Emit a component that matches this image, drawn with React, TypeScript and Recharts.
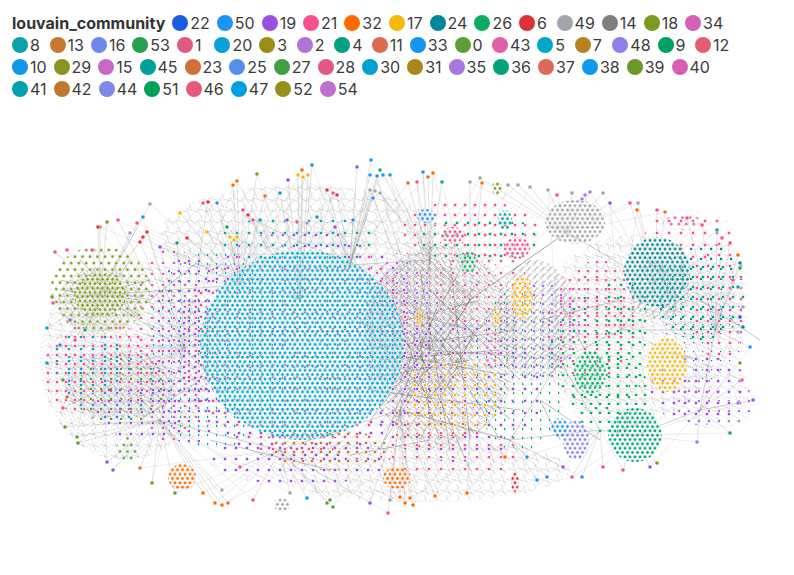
import React from "react";
import { ScatterChart, Scatter, XAxis, YAxis, ReferenceLine, Legend } from "recharts";

// legend order, as the chart lists it
const legendOrder = [
  22, 50, 19, 21, 32, 17, 24, 26, 6, 49, 14, 18, 34, 8, 13, 16, 53, 1, 20, 3, 2, 4, 11, 33, 0, 43, 5, 7, 48, 9, 12,
  10, 29, 15, 45, 23, 25, 27, 28, 30, 31, 35, 36, 37, 38, 39, 40, 41, 42, 44, 51, 46, 47, 52, 54,
];

const palette: Record<number, string> = {
  22: "#1a5be0", 50: "#1e93f7", 19: "#9b51e0", 21: "#f5508f", 32: "#ff6a00", 17: "#f5b80c", 24: "#008896",
  26: "#0aac62", 6: "#e0303a", 49: "#a2a5aa", 14: "#7f7f7f", 18: "#7a9a22", 34: "#d660b8", 8: "#0aa3aa",
  13: "#c87830", 16: "#6e88f0", 53: "#2a9e50", 1: "#e05a80", 20: "#0aa0d8", 3: "#9a8c18", 2: "#b074d8",
  4: "#00a080", 11: "#dc6c50", 33: "#1595f0", 0: "#5e9e38", 43: "#e060a8", 5: "#00a8c8", 7: "#b88020",
  48: "#9080e8", 9: "#00a060", 12: "#e06070", 10: "#1098e8", 29: "#8a9422", 15: "#c868c8", 45: "#00a098",
  23: "#d07038", 25: "#5590f0", 27: "#42a044", 28: "#e05888", 30: "#00a0d0", 31: "#a88818", 35: "#a878e0",
  36: "#00a478", 37: "#e06858", 38: "#1098f0", 39: "#6e9828", 40: "#d860b0", 41: "#00a0b0", 42: "#c07830",
  44: "#8088e8", 51: "#00a058", 46: "#e85878", 47: "#00a0e0", 52: "#949020", 54: "#c070d0",
};

// dense groups of nodes: [community, x, y, spreadX, spreadY, packing]
// "haze" and "veil" are the dark and light tangles of edges between them
const groups: [number, number, number, number, number, string][] = [
  [14, 300, 235, 140, 50, "veil"],
  [14, 630, 330, 90, 95, "veil"],
  [14, 125, 360, 85, 100, "veil"],
  [14, 420, 470, 150, 32, "veil"],
  [14, 440, 345, 78, 100, "haze"],
  [14, 420, 330, 55, 70, "haze"],
  [14, 535, 320, 40, 60, "haze"],
  [14, 100, 300, 42, 32, "haze"],
  [14, 120, 385, 55, 35, "haze"],
  [14, 660, 290, 30, 30, "haze"],
  [19, 302, 345, 128, 116, "mix"],
  [21, 302, 345, 122, 112, "mix"],
  [5, 215, 350, 70, 100, "mix"],
  [19, 190, 350, 40, 95, "mix"],
  [43, 170, 345, 40, 100, "mix"],
  [50, 110, 380, 50, 42, "mix"],
  [21, 100, 370, 58, 48, "mix"],
  [0, 120, 392, 45, 35, "mix"],
  [19, 140, 410, 45, 30, "mix"],
  [8, 90, 360, 40, 30, "mix"],
  [18, 100, 290, 50, 44, "loose"],
  [18, 100, 295, 26, 22, "core"],
  [21, 440, 330, 78, 96, "mix"],
  [19, 455, 390, 88, 72, "mix"],
  [26, 520, 370, 48, 82, "mix"],
  [17, 455, 395, 48, 40, "mix"],
  [13, 430, 420, 40, 30, "mix"],
  [43, 480, 290, 50, 40, "mix"],
  [35, 540, 330, 40, 50, "mix"],
  [2, 400, 300, 40, 40, "mix"],
  [26, 600, 350, 50, 60, "mix"],
  [21, 590, 330, 45, 55, "mix"],
  [26, 610, 395, 40, 40, "mix"],
  [35, 715, 400, 40, 30, "mix"],
  [19, 700, 390, 50, 35, "mix"],
  [21, 690, 235, 45, 25, "mix"],
  [22, 705, 330, 40, 50, "mix"],
  [24, 700, 290, 45, 50, "mix"],
  [21, 720, 300, 30, 60, "mix"],
  [26, 620, 320, 32, 42, "mix"],
  [43, 600, 300, 40, 40, "mix"],
  [36, 700, 300, 45, 40, "mix"],
  [19, 300, 460, 90, 25, "mix"],
  [21, 450, 455, 70, 25, "mix"],
  [13, 330, 450, 60, 20, "mix"],
  [21, 470, 230, 70, 30, "mix"],
  [26, 480, 240, 60, 25, "mix"],
  [8, 300, 240, 80, 25, "mix"],
  [5, 302, 345, 102, 95, "core"],
  [24, 657, 272, 33, 35, "core"],
  [26, 590, 372, 16, 22, "core"],
  [17, 667, 365, 20, 27, "core"],
  [17, 522, 297, 11, 22, "core"],
  [17, 419, 318, 5, 8, "core"],
  [17, 496, 318, 4, 10, "core"],
  [36, 635, 435, 27, 27, "core"],
  [44, 576, 440, 13, 20, "core"],
  [50, 560, 428, 9, 10, "core"],
  [49, 575, 222, 30, 22, "core"],
  [50, 426, 216, 9, 7, "core"],
  [21, 517, 248, 13, 11, "core"],
  [45, 505, 220, 7, 10, "core"],
  [26, 468, 262, 8, 12, "core"],
  [18, 497, 188, 5, 7, "core"],
  [1, 453, 235, 12, 8, "core"],
  [43, 683, 222, 18, 8, "loose"],
  [43, 492, 350, 8, 20, "loose"],
  [32, 182, 477, 14, 13, "core"],
  [32, 397, 478, 14, 11, "core"],
  [0, 127, 450, 11, 13, "loose"],
  [49, 282, 505, 8, 7, "core"],
  [6, 515, 482, 4, 10, "core"],
];

// points where many edges meet
const hubs: [number, number][] = [
  [300, 300], [430, 350], [470, 300], [400, 410], [567, 232], [655, 285], [100, 295], [185, 350], [510, 440],
  [620, 330], [715, 330], [350, 265], [240, 285], [160, 420], [280, 450], [470, 430], [600, 430], [700, 410],
  [560, 360], [635, 435], [430, 260],
];

const hubLinks: [number, number][] = [
  [1, 2], [1, 3], [1, 20], [2, 20], [1, 18], [2, 18], [3, 15], [15, 8], [8, 16], [16, 19], [18, 9], [9, 5],
  [5, 4], [4, 2], [20, 11], [11, 0], [0, 12], [12, 7], [7, 6], [7, 13], [13, 14], [14, 3], [1, 0], [2, 4],
  [9, 10], [10, 17], [17, 19], [18, 16], [3, 8], [6, 12], [1, 15], [2, 3], [20, 3], [18, 8],
];

// outlying nodes: [community, x, y, first hub, second hub]
const outerNodes: [number, number, number, number, number][] = [
  [50, 371, 160, 11, 1], [8, 312, 165, 0, 11], [32, 302, 170, 0, 12], [18, 257, 174, 12, 0], [32, 233, 185, 12, 7],
  [32, 237, 181, 12, 0], [17, 298, 175, 0, 20], [17, 303, 177, 0, 11], [17, 308, 175, 0, 12], [19, 288, 180, 0, 1],
  [50, 370, 175, 11, 2], [50, 377, 176, 11, 1], [50, 383, 175, 20, 0], [26, 380, 170, 11, 2], [8, 390, 175, 20, 1],
  [6, 327, 190, 11, 0], [21, 333, 193, 0, 1], [6, 337, 195, 11, 12], [8, 280, 193, 0, 12], [32, 265, 196, 12, 11],
  [19, 357, 167, 11, 2], [49, 370, 190, 11, 1], [49, 375, 191, 11, 0], [49, 380, 193, 20, 2], [50, 373, 198, 11, 1],
  [21, 203, 203, 12, 0], [6, 208, 202, 7, 0], [50, 217, 203, 12, 11], [49, 150, 204, 6, 12], [17, 180, 213, 12, 0],
  [50, 143, 217, 6, 7], [18, 100, 227, 6, 12], [18, 107, 222, 6, 7], [21, 118, 220, 7, 12], [21, 137, 223, 6, 0],
  [49, 130, 233, 6, 12], [6, 147, 232, 7, 0], [6, 143, 237, 6, 12], [6, 140, 242, 7, 6], [21, 55, 252, 6, 7],
  [21, 67, 250, 6, 7], [21, 92, 250, 6, 12], [6, 98, 227, 6, 7], [19, 160, 247, 7, 0], [26, 177, 243, 7, 12],
  [6, 187, 238, 12, 0], [17, 207, 232, 12, 0], [17, 230, 237, 12, 0], [17, 234, 240, 12, 11], [17, 237, 237, 12, 1],
  [26, 227, 227, 12, 0], [21, 243, 210, 0, 12], [6, 248, 215, 0, 1], [21, 253, 220, 0, 11], [8, 260, 220, 0, 12],
  [19, 287, 220, 0, 1], [21, 297, 222, 0, 20], [49, 307, 223, 0, 1], [8, 317, 217, 11, 0], [19, 335, 227, 11, 1],
  [50, 353, 220, 11, 2], [8, 47, 328, 6, 7], [18, 52, 297, 6, 7], [21, 53, 303, 6, 13], [50, 423, 172, 20, 1],
  [32, 433, 173, 20, 2], [13, 428, 177, 20, 0], [13, 408, 183, 20, 11], [21, 417, 182, 20, 1], [26, 442, 182, 20, 2],
  [49, 470, 182, 2, 4], [32, 482, 183, 2, 1], [49, 480, 178, 4, 20], [49, 508, 185, 4, 2], [49, 518, 185, 4, 20],
  [49, 530, 187, 4, 2], [49, 548, 190, 4, 18], [21, 557, 195, 4, 2], [49, 572, 193, 4, 5], [35, 585, 195, 4, 9],
  [35, 590, 192, 4, 5], [35, 582, 199, 4, 2], [49, 603, 193, 4, 5], [19, 610, 203, 4, 9], [21, 630, 203, 5, 4],
  [49, 638, 203, 5, 4], [32, 637, 210, 5, 9], [21, 657, 210, 5, 10], [32, 665, 212, 5, 4], [21, 687, 218, 10, 5],
  [21, 702, 225, 10, 5], [8, 717, 230, 10, 5], [21, 722, 238, 10, 9], [21, 730, 243, 10, 5], [32, 738, 255, 10, 5],
  [24, 740, 263, 10, 5], [26, 740, 268, 10, 9], [21, 733, 280, 10, 5], [8, 738, 287, 10, 9], [49, 743, 307, 10, 17],
  [22, 740, 317, 10, 9], [24, 743, 327, 10, 5], [49, 738, 332, 10, 17], [50, 750, 347, 10, 17], [18, 740, 363, 17, 10],
  [21, 742, 380, 17, 9], [35, 738, 403, 17, 10], [19, 753, 400, 17, 19], [26, 730, 433, 17, 19], [35, 697, 442, 17, 19],
  [18, 657, 463, 19, 16], [19, 650, 467, 19, 17], [21, 623, 470, 19, 16], [21, 603, 467, 16, 19], [50, 582, 477, 16, 8],
  [21, 572, 477, 16, 19], [19, 563, 467, 16, 8], [50, 547, 477, 8, 16], [50, 537, 480, 8, 15], [50, 527, 457, 8, 16],
  [32, 505, 457, 8, 15], [32, 467, 493, 15, 8], [32, 435, 496, 3, 15], [32, 400, 497, 3, 15], [32, 405, 503, 3, 14],
  [32, 410, 498, 3, 8], [32, 413, 505, 3, 15], [21, 388, 513, 3, 14], [19, 370, 503, 3, 14], [49, 390, 500, 3, 15],
  [0, 327, 503, 14, 3], [0, 333, 507, 14, 3], [0, 330, 500, 14, 15], [5, 307, 498, 14, 3], [49, 290, 493, 14, 13],
  [21, 253, 500, 14, 13], [21, 240, 467, 14, 13], [49, 222, 490, 13, 14], [32, 215, 503, 13, 14], [32, 222, 505, 13, 3],
  [32, 228, 503, 13, 14], [32, 203, 493, 13, 14], [0, 175, 493, 13, 14], [0, 152, 483, 13, 7], [32, 140, 468, 13, 14],
  [19, 113, 470, 13, 7], [19, 107, 462, 13, 6], [0, 78, 443, 13, 7], [0, 77, 437, 13, 6], [0, 65, 427, 13, 7],
  [21, 63, 408, 7, 6], [13, 67, 397, 7, 13], [0, 63, 380, 7, 6], [8, 47, 363, 7, 6], [21, 75, 340, 6, 7],
  [50, 60, 345, 7, 13], [26, 85, 330, 6, 13], [19, 70, 320, 6, 7],
];

// strands inside the dark, busy middle and the other knots
const innerEdges: [number, number, number, number][] = [
  [365, 300, 470, 330], [370, 330, 480, 300], [380, 360, 500, 350], [390, 290, 440, 440], [400, 300, 510, 420],
  [360, 380, 470, 360], [370, 420, 480, 280], [420, 270, 450, 450], [440, 300, 380, 450], [460, 270, 400, 380],
  [480, 320, 420, 440], [380, 270, 500, 400], [360, 350, 520, 330], [400, 440, 500, 300], [430, 290, 520, 380],
  [410, 330, 470, 470], [370, 390, 520, 410], [450, 260, 470, 440], [390, 400, 490, 320], [360, 320, 450, 420],
  [375, 310, 455, 395], [395, 355, 505, 375], [415, 300, 430, 420], [440, 340, 500, 440], [385, 440, 470, 300],
  [60, 280, 150, 300], [80, 260, 140, 320], [70, 300, 150, 280], [90, 320, 130, 260], [60, 290, 140, 300],
  [210, 440, 330, 470], [350, 455, 430, 440], [540, 320, 620, 300], [560, 300, 600, 380], [640, 250, 680, 300],
  [650, 260, 690, 290], [660, 250, 670, 310], [540, 400, 600, 440], [700, 300, 760, 340], [548, 225, 580, 240],
  [540, 400, 560, 440], [620, 430, 650, 420], [660, 350, 700, 360], [150, 300, 200, 260], [140, 420, 200, 380],
];

const groupData = groups.map(([c, x, y, sx, sy, k], i) => ({ id: i, c, x, y, sx, sy, k }));
const nodeData = outerNodes.map(([c, x, y, h1, h2]) => ({ c, x, y, h1, h2 }));

function GroupShape(props: any) {
  const { cx, cy, payload } = props;
  const color = palette[payload.c];
  const pid = `grp${payload.id}`;
  let pattern;
  if (payload.k === "core" || payload.k === "loose") {
    const w = payload.k === "core" ? 5 : 7.5;
    const h = w * 1.732;
    pattern = (
      <pattern id={pid} patternUnits="userSpaceOnUse" width={w} height={h}>
        {[[w / 2, h / 4], [0, (h * 3) / 4], [w, (h * 3) / 4]].map(([px, py], j) => (
          <circle key={j} cx={px} cy={py} r={1.8} fill={color} stroke="#fff" strokeWidth={0.7} />
        ))}
      </pattern>
    );
  } else if (payload.k === "haze" || payload.k === "veil") {
    const dark = payload.k === "haze";
    const s = dark ? 7 : 11;
    const op = dark ? 0.3 : 0.2;
    const sh = (payload.id * 2) % s;
    pattern = (
      <pattern id={pid} patternUnits="userSpaceOnUse" width={s} height={s}>
        <line x1={0} y1={sh} x2={s} y2={(sh + 3) % s} stroke="#333" strokeOpacity={op} strokeWidth={0.7} />
        <line x1={sh} y1={0} x2={(sh + 4) % s} y2={s} stroke="#333" strokeOpacity={op} strokeWidth={0.7} />
        <line x1={0} y1={s} x2={s} y2={0} stroke="#444" strokeOpacity={op * 0.8} strokeWidth={0.6} />
      </pattern>
    );
  } else {
    // scattered members with a few edges behind them
    const s = 9 + (payload.id % 4);
    const ox = (payload.id * 3) % s;
    const oy = (payload.id * 7) % s;
    pattern = (
      <pattern id={pid} patternUnits="userSpaceOnUse" width={s} height={s}>
        <line x1={0} y1={(oy + 4) % s} x2={s} y2={(oy + 8) % s} stroke="#444" strokeOpacity={0.16} strokeWidth={0.6} />
        <circle cx={ox} cy={oy} r={1.8} fill={color} stroke="#fff" strokeWidth={0.7} />
      </pattern>
    );
  }
  return (
    <g>
      <defs>{pattern}</defs>
      <ellipse cx={cx} cy={cy} rx={payload.sx} ry={payload.sy} fill={`url(#${pid})`} />
    </g>
  );
}

function NodeShape(props: any) {
  const { cx, cy, payload } = props;
  return <circle cx={cx} cy={cy} r={2.1} fill={palette[payload.c]} stroke="#fff" strokeWidth={0.6} />;
}

function LegendBox() {
  return (
    <div
      style={{
        display: "flex",
        flexWrap: "wrap",
        columnGap: 7,
        width: 731,
        fontFamily: "Inter, sans-serif",
        fontSize: 16,
        lineHeight: "22px",
        color: "#3c3c3c",
      }}
    >
      <span style={{ fontWeight: 700, color: "#333" }}>louvain_community</span>
      {legendOrder.map((c) => (
        <span key={c} style={{ display: "flex", alignItems: "center", height: 22 }}>
          <span
            style={{ width: 16, height: 16, borderRadius: 8, background: palette[c], marginRight: 2, display: "inline-block" }}
          />
          <span style={{ minWidth: 12.5 }}>{c}</span>
        </span>
      ))}
    </div>
  );
}

export default function App() {
  const edge = (key: string, x1: number, y1: number, x2: number, y2: number, stroke: string, op: number, w: number) => (
    <ReferenceLine
      key={key}
      segment={[{ x: x1, y: y1 }, { x: x2, y: y2 }]}
      stroke={stroke}
      strokeOpacity={op}
      strokeWidth={w}
    />
  );
  return (
    <div style={{ position: "absolute", left: 0, top: 0, background: "#fff" }}>
      <ScatterChart width={794} height={575} margin={{ top: 0, right: 0, bottom: 0, left: 0 }}>
        <XAxis type="number" dataKey="x" domain={[0, 794]} hide />
        <YAxis type="number" dataKey="y" domain={[0, 575]} reversed hide />
        {hubLinks.map(([a, b], i) => edge(`hl${i}`, hubs[a][0], hubs[a][1], hubs[b][0], hubs[b][1], "#555", 0.35, 0.8))}
        {innerEdges.map(([x1, y1, x2, y2], i) => edge(`ie${i}`, x1, y1, x2, y2, "#333", 0.35, 0.9))}
        {nodeData.map((n, i) => edge(`oa${i}`, n.x, n.y, hubs[n.h1][0], hubs[n.h1][1], "#777", 0.35, 0.6))}
        {nodeData.map((n, i) => edge(`ob${i}`, n.x, n.y, hubs[n.h2][0], hubs[n.h2][1], "#888", 0.3, 0.5))}
        <Scatter data={groupData} shape={GroupShape} isAnimationActive={false} />
        <Scatter data={nodeData} shape={NodeShape} isAnimationActive={false} />
        <Legend
          layout="horizontal"
          verticalAlign="middle"
          align="center"
          wrapperStyle={{ top: 12, left: 12, width: 760 }}
          content={() => <LegendBox />}
        />
      </ScatterChart>
    </div>
  );
}
